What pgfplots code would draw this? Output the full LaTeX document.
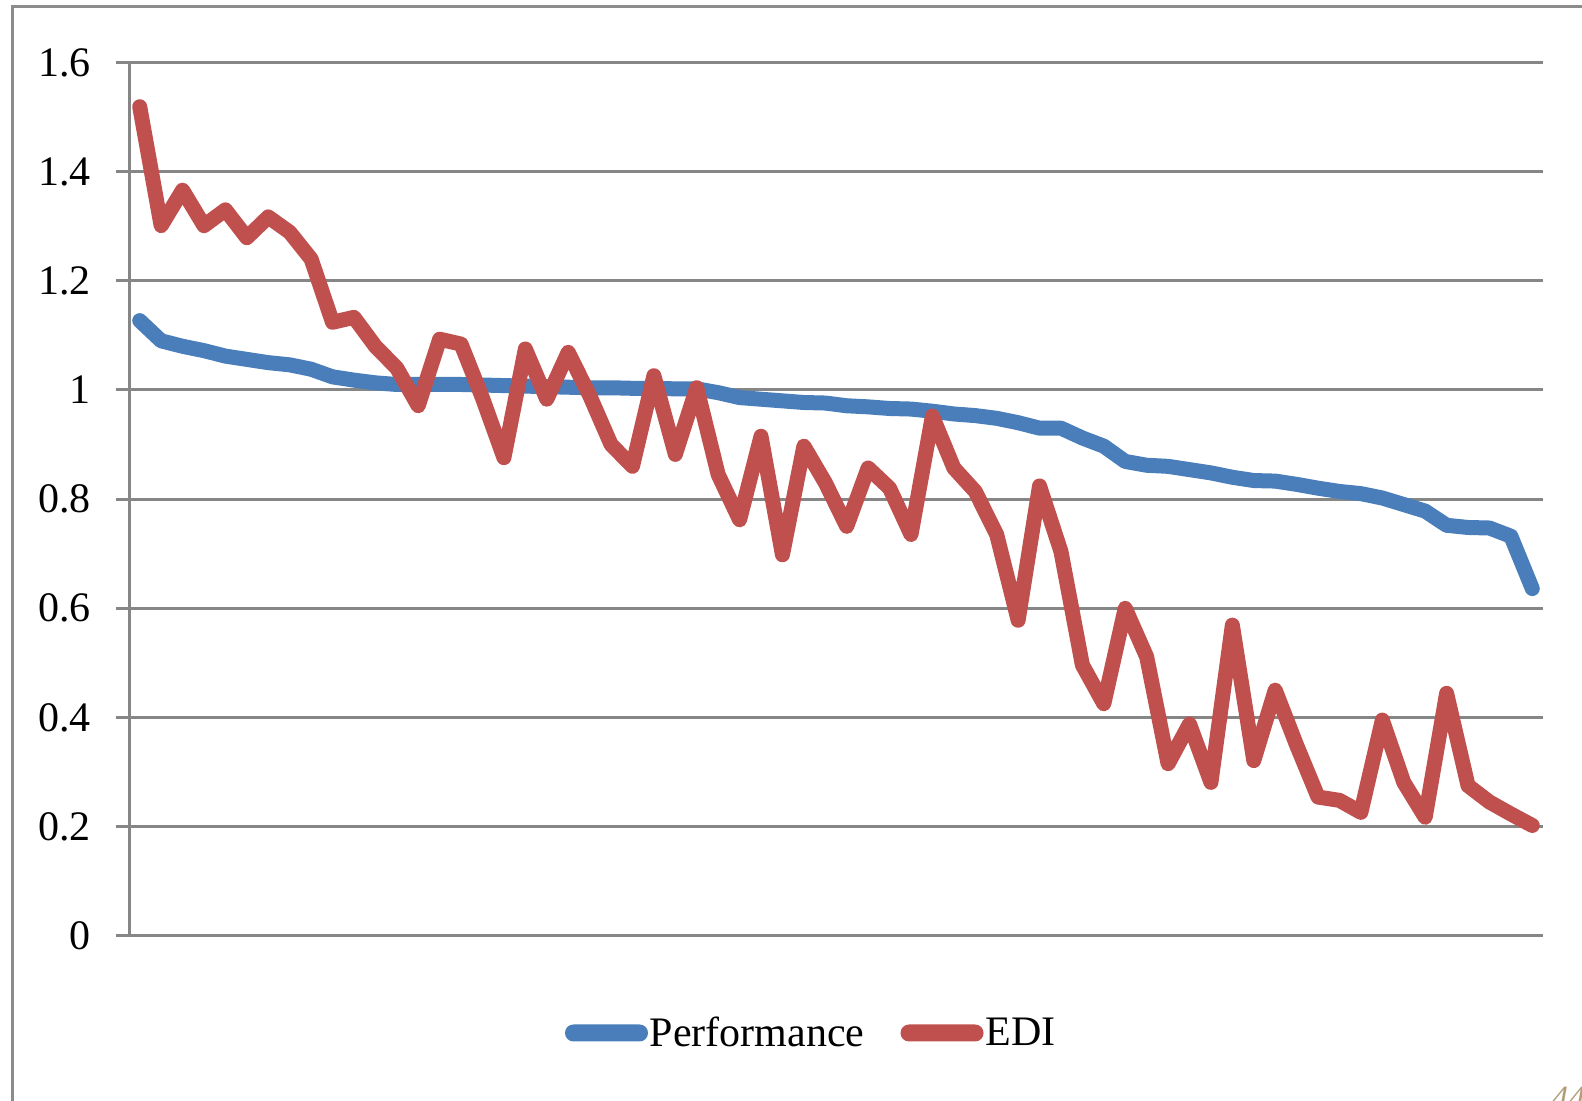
\documentclass[border=0pt]{standalone}
\usepackage{pgfplots}
\usepackage{pgfplotstable}
\usepackage{fontspec}
\pgfplotsset{compat=1.18}
\setmainfont{Liberation Serif}

\definecolor{perfblue}{RGB}{74,126,187}
\definecolor{edired}{RGB}{192,80,77}
\definecolor{gridgray}{RGB}{134,134,134}
\definecolor{framegray}{RGB}{140,140,140}
\definecolor{slidetan}{RGB}{178,158,118}

% x: position of each case (sorted by performance), perf: Performance, edi: EDI
\pgfplotstableread{
x    perf   edi
0.5  1.127  1.519
1.5  1.090  1.301
2.5  1.080  1.366
3.5  1.072  1.301
4.5  1.062  1.330
5.5  1.056  1.279
6.5  1.050  1.317
7.5  1.046  1.289
8.5  1.038  1.240
9.5  1.024  1.124
10.5 1.018  1.133
11.5 1.013  1.080
12.5 1.010  1.040
13.5 1.010  0.971
14.5 1.010  1.093
15.5 1.010  1.084
16.5 1.009  0.985
17.5 1.008  0.876
18.5 1.007  1.075
19.5 1.006  0.983
20.5 1.005  1.069
21.5 1.004  0.990
22.5 1.004  0.900
23.5 1.003  0.860
24.5 1.003  1.026
25.5 1.002  0.882
26.5 1.002  1.004
27.5 0.995  0.845
28.5 0.986  0.762
29.5 0.983  0.915
30.5 0.980  0.698
31.5 0.977  0.897
32.5 0.976  0.830
33.5 0.971  0.750
34.5 0.969  0.857
35.5 0.966  0.820
36.5 0.965  0.735
37.5 0.961  0.952
38.5 0.956  0.857
39.5 0.953  0.814
40.5 0.948  0.735
41.5 0.940  0.578
42.5 0.930  0.824
43.5 0.930  0.704
44.5 0.912  0.496
45.5 0.897  0.425
46.5 0.869  0.600
47.5 0.862  0.511
48.5 0.860  0.315
49.5 0.854  0.388
50.5 0.848  0.281
51.5 0.840  0.569
52.5 0.834  0.321
53.5 0.833  0.450
54.5 0.827  0.349
55.5 0.820  0.254
56.5 0.814  0.248
57.5 0.810  0.226
58.5 0.802  0.395
59.5 0.790  0.281
60.5 0.778  0.217
61.5 0.752  0.444
62.5 0.748  0.275
63.5 0.747  0.245
64.5 0.732  0.223
65.5 0.636  0.202
}\chartdata

\begin{document}
\begin{tikzpicture}
% page area
\path[use as bounding box] (0bp,0bp) rectangle (791bp,550.5bp);
% chart frame (runs off the right and bottom edges)
\draw[framegray, line width=1.5bp] (6bp,-10bp) -- (6bp,547bp) -- (810bp,547bp);
% slide number
\node[anchor=base west, inner sep=0pt, text=slidetan, font=\fontsize{17bp}{20bp}\selectfont\itshape]
  at (775.5bp,-4bp) {44};

\begin{axis}[
  at={(64.5bp,82.65bp)}, anchor=south west,
  scale only axis, width=707bp, height=436.6bp,
  xmin=0, xmax=66, ymin=0, ymax=1.6,
  xtick=\empty,
  ytick={0,0.2,...,1.6},
  axis lines=left,
  axis line style={-, gridgray, line width=1.5bp},
  ymajorgrids,
  grid style={gridgray, line width=1.5bp},
  tick align=outside,
  major tick length=6.5bp,
  tick style={gridgray, line width=1.5bp},
  /pgf/number format/assume math mode=true,
  ticklabel style={font=\fontsize{21bp}{24bp}\selectfont},
  yticklabel style={xshift=-9bp},
  clip=false,
  legend columns=2,
  legend style={
    at={(0.4825,-0.1114)}, anchor=center,
    draw=none, fill=none,
    font=\fontsize{21bp}{24bp}\selectfont,
    nodes={inner sep=1bp},
    /tikz/every even column/.append style={column sep=17bp},
  },
  legend image code/.code={
    \fill[#1, draw=none, rounded corners=4.2bp] (0bp,-4.25bp) rectangle (41.5bp,4.25bp);
  },
]
\addplot[perfblue, line width=7.5bp, line cap=round, line join=round]
  table[x=x, y=perf] {\chartdata};
\addlegendentry{Performance}
\addplot[edired, line width=7.5bp, line cap=round, line join=round]
  table[x=x, y=edi] {\chartdata};
\addlegendentry{EDI}
\end{axis}
\end{tikzpicture}
\end{document}
